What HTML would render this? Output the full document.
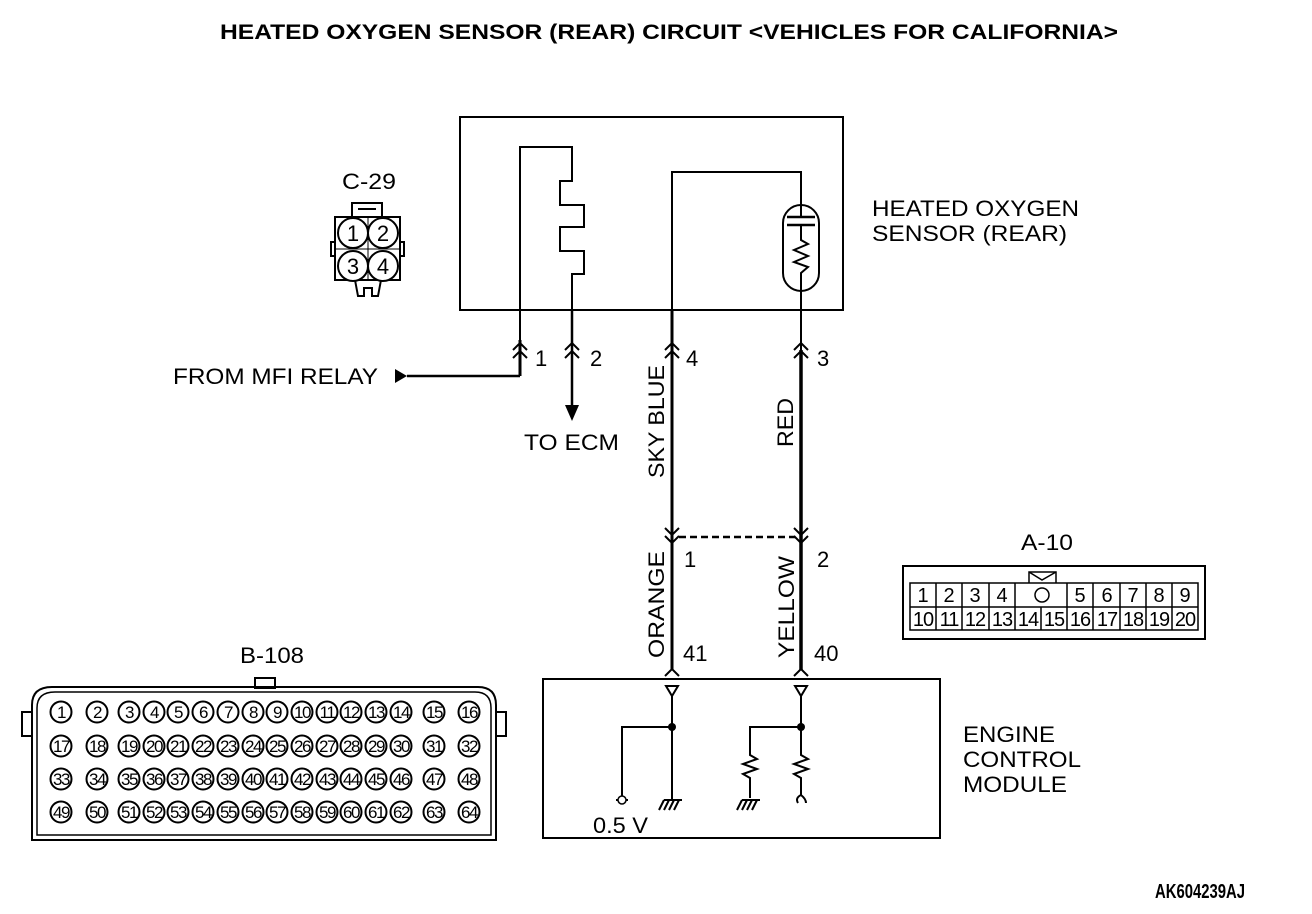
<!DOCTYPE html>
<html><head><meta charset="utf-8"><style>
html,body{margin:0;padding:0;background:#fff}
svg{display:block}
text{font-family:"Liberation Sans",Arial,sans-serif;fill:#000}
</style></head><body>
<svg width="1312" height="914" viewBox="0 0 1312 914" xmlns="http://www.w3.org/2000/svg">
<text x="220" y="39" font-size="21" font-weight="bold" textLength="898" lengthAdjust="spacingAndGlyphs">HEATED OXYGEN SENSOR (REAR) CIRCUIT &lt;VEHICLES FOR CALIFORNIA&gt;</text>

<rect x="460" y="117" width="383" height="193" fill="none" stroke="#000" stroke-width="2"/>
<polyline points="520,376 520,147 572,147 572,181 560,181 560,205 584,205 584,227 560,227 560,251 584,251 584,274 572,274 572,405" fill="none" stroke="#000" stroke-width="2"/>
<polyline points="672,530 672,172 801,172 801,205" fill="none" stroke="#000" stroke-width="2"/>
<line x1="672" y1="310" x2="672" y2="670" stroke="#000" stroke-width="3"/>
<rect x="783" y="205" width="36" height="86" rx="18" fill="none" stroke="#000" stroke-width="2"/>
<line x1="787" y1="217" x2="815" y2="217" stroke="#000" stroke-width="2.5"/>
<line x1="787" y1="225" x2="815" y2="225" stroke="#000" stroke-width="2.5"/>
<line x1="801" y1="217" x2="801" y2="205" stroke="#000" stroke-width="2"/>
<polyline points="801,225 801,240 808,244 794,250 808,256 794,262 808,267 801,273 801,291" fill="none" stroke="#000" stroke-width="2"/>
<line x1="801" y1="291" x2="801" y2="670" stroke="#000" stroke-width="2"/>
<line x1="801" y1="350" x2="801" y2="670" stroke="#000" stroke-width="3.5"/>
<line x1="520" y1="340" x2="520" y2="376" stroke="#000" stroke-width="3"/>

<g fill="none" stroke="#000" stroke-width="2">
<polyline points="513,350 520,343 527,350"/><polyline points="513,358 520,351 527,358"/>
<polyline points="565,350 572,343 579,350"/><polyline points="565,358 572,351 579,358"/>
<polyline points="665,350 672,343 679,350"/><polyline points="665,358 672,351 679,358"/>
<polyline points="794,350 801,343 808,350"/><polyline points="794,358 801,351 808,358"/>
<polyline points="665,528 672,535 679,528"/><polyline points="665,536 672,543 679,536"/>
<polyline points="794,528 801,535 808,528"/><polyline points="794,536 801,543 808,536"/>
<polyline points="665,676 672,669 679,676"/><polyline points="794,676 801,669 808,676"/>
</g>
<g font-size="22">
<text x="535" y="366">1</text>
<text x="590" y="366">2</text>
<text x="686" y="366">4</text>
<text x="817" y="366">3</text>
</g>

<line x1="407" y1="376" x2="520" y2="376" stroke="#000" stroke-width="2.5"/>
<polygon points="395,369 407,376 395,383" fill="#000"/>
<text x="173" y="384" font-size="22" textLength="205" lengthAdjust="spacingAndGlyphs">FROM MFI RELAY</text>
<line x1="572" y1="310" x2="572" y2="405" stroke="#000" stroke-width="2.5"/>
<polygon points="565,405 579,405 572,421" fill="#000"/>
<text x="524" y="450" font-size="22" textLength="95" lengthAdjust="spacingAndGlyphs">TO ECM</text>

<text transform="translate(664,478) rotate(-90)" font-size="22" textLength="113" lengthAdjust="spacingAndGlyphs">SKY BLUE</text>
<text transform="translate(793,447) rotate(-90)" font-size="22" textLength="49" lengthAdjust="spacingAndGlyphs">RED</text>
<line x1="679" y1="537" x2="795" y2="537" stroke="#000" stroke-width="2.5" stroke-dasharray="7,4"/>
<text x="684" y="567" font-size="22">1</text>
<text x="817" y="567" font-size="22">2</text>
<text transform="translate(664,658) rotate(-90)" font-size="22" textLength="107" lengthAdjust="spacingAndGlyphs">ORANGE</text>
<text transform="translate(794,658) rotate(-90)" font-size="22" textLength="102" lengthAdjust="spacingAndGlyphs">YELLOW</text>
<text x="683" y="661" font-size="22">41</text>
<text x="814" y="661" font-size="22">40</text>

<rect x="543" y="679" width="397" height="159" fill="none" stroke="#000" stroke-width="2"/>
<g fill="none" stroke="#000" stroke-width="2">
<polygon points="666,686 678,686 672,696"/>
<polygon points="795,686 807,686 801,696"/>
<line x1="672" y1="696" x2="672" y2="800"/>
<polyline points="672,727 622,727 622,800"/>
<line x1="616" y1="800" x2="628" y2="800"/>
<line x1="801" y1="696" x2="801" y2="748"/>
<polyline points="801,727 750,727 750,752"/>
<polyline points="750,752 750,755 757,759 743,764 757,769 743,774 750,778 750,798"/>
<polyline points="801,748 801,755 808,759 794,764 808,769 794,774 801,778 801,795"/>
<path d="M801,795 q-6,3 -3,8 M801,795 q5,4 5,8"/>
<line x1="664" y1="800" x2="682" y2="800"/>
<line x1="742" y1="800" x2="760" y2="800"/>
</g>
<circle cx="622" cy="800" r="4" fill="#fff" stroke="#000" stroke-width="1.5"/>
<circle cx="672" cy="727" r="4" fill="#000"/><circle cx="801" cy="727" r="4" fill="#000"/>
<g stroke="#000" stroke-width="2">
<line x1="664" y1="810" x2="669" y2="800"/><line x1="669" y1="810" x2="674" y2="800"/><line x1="674" y1="810" x2="679" y2="800"/><line x1="659" y1="810" x2="664" y2="800"/>
<line x1="742" y1="810" x2="747" y2="800"/><line x1="747" y1="810" x2="752" y2="800"/><line x1="752" y1="810" x2="757" y2="800"/><line x1="737" y1="810" x2="742" y2="800"/>
</g>
<text x="593" y="833" font-size="22" textLength="55" lengthAdjust="spacingAndGlyphs">0.5 V</text>
<text x="963" y="742" font-size="22" textLength="92" lengthAdjust="spacingAndGlyphs">ENGINE</text>
<text x="963" y="767" font-size="22" textLength="118" lengthAdjust="spacingAndGlyphs">CONTROL</text>
<text x="963" y="792" font-size="22" textLength="104" lengthAdjust="spacingAndGlyphs">MODULE</text>
<text x="872" y="216" font-size="22" textLength="207" lengthAdjust="spacingAndGlyphs">HEATED OXYGEN</text>
<text x="872" y="241" font-size="22" textLength="195" lengthAdjust="spacingAndGlyphs">SENSOR (REAR)</text>

<text x="342" y="189" font-size="22" textLength="54" lengthAdjust="spacingAndGlyphs">C-29</text>
<g fill="none" stroke="#000" stroke-width="2">
<rect x="352" y="203" width="30" height="14"/>
<line x1="358" y1="209" x2="376" y2="209"/>
<rect x="335" y="217" width="65" height="63"/>
<rect x="331" y="242" width="4" height="14"/><rect x="400" y="242" width="4" height="14"/>
<polyline points="355,280 358,296 364,296 364,288 372,288 372,296 378,296 381,280"/>
<line x1="368" y1="217" x2="368" y2="280" stroke-width="1"/><line x1="335" y1="249" x2="400" y2="249" stroke-width="1"/>
</g>
<g fill="#fff" stroke="#000" stroke-width="2">
<circle cx="353" cy="233" r="15"/><circle cx="383" cy="233" r="15"/>
<circle cx="353" cy="266" r="15"/><circle cx="383" cy="266" r="15"/>
</g>
<g font-size="22" text-anchor="middle">
<text x="353" y="241">1</text><text x="383" y="241">2</text><text x="353" y="274">3</text><text x="383" y="274">4</text>
</g>

<text x="1021" y="550" font-size="22" textLength="52" lengthAdjust="spacingAndGlyphs">A-10</text>
<rect x="903" y="566" width="302" height="73" fill="none" stroke="#000" stroke-width="2"/>
<g fill="none" stroke="#000" stroke-width="1.5">
<rect x="910" y="583" width="288" height="47"/>
<line x1="910" y1="607" x2="1198" y2="607"/>
<polyline points="1029,583 1029,572 1056,572 1056,583"/>
<polyline points="1029,572 1042,580 1056,572"/>
<circle cx="1042" cy="595" r="7"/>
</g>
<g stroke="#000" stroke-width="1.5">
<line x1="936" y1="583" x2="936" y2="630"/><line x1="962" y1="583" x2="962" y2="630"/><line x1="989" y1="583" x2="989" y2="630"/><line x1="1015" y1="583" x2="1015" y2="630"/>
<line x1="1041" y1="607" x2="1041" y2="630"/><line x1="1067" y1="583" x2="1067" y2="630"/>
<line x1="1093" y1="583" x2="1093" y2="630"/><line x1="1120" y1="583" x2="1120" y2="630"/><line x1="1146" y1="583" x2="1146" y2="630"/><line x1="1172" y1="583" x2="1172" y2="630"/>
</g>
<g font-size="20" text-anchor="middle">
<text x="923" y="602">1</text><text x="949" y="602">2</text><text x="975" y="602">3</text><text x="1002" y="602">4</text>
<text x="1080" y="602">5</text><text x="1107" y="602">6</text><text x="1133" y="602">7</text><text x="1159" y="602">8</text><text x="1185" y="602">9</text>
</g>
<g font-size="20" text-anchor="middle" letter-spacing="-1">
<text x="923" y="626">10</text><text x="949" y="626">11</text><text x="975" y="626">12</text><text x="1002" y="626">13</text><text x="1028" y="626">14</text><text x="1054" y="626">15</text>
<text x="1080" y="626">16</text><text x="1107" y="626">17</text><text x="1133" y="626">18</text><text x="1159" y="626">19</text><text x="1185" y="626">20</text>
</g>

<text x="240" y="663" font-size="22" textLength="64" lengthAdjust="spacingAndGlyphs">B-108</text>
<rect x="255" y="678" width="20" height="10" fill="#fff" stroke="#000" stroke-width="2"/>
<rect x="22" y="712" width="10" height="24" fill="#fff" stroke="#000" stroke-width="2"/>
<rect x="496" y="712" width="10" height="24" fill="#fff" stroke="#000" stroke-width="2"/>
<path d="M52,687 H478 Q496,687 496,705 V840 H32 V705 Q32,687 52,687 Z" fill="none" stroke="#000" stroke-width="2"/>
<path d="M55,692 H475 Q491,692 491,708 V835 H37 V708 Q37,692 55,692 Z" fill="none" stroke="#000" stroke-width="1.5"/>
<g fill="none" stroke="#000" stroke-width="2">
<circle cx="61" cy="712" r="10.5"/><circle cx="97" cy="712" r="10.5"/><circle cx="129" cy="712" r="10.5"/><circle cx="154" cy="712" r="10.5"/><circle cx="178" cy="712" r="10.5"/><circle cx="203" cy="712" r="10.5"/><circle cx="228" cy="712" r="10.5"/><circle cx="253" cy="712" r="10.5"/><circle cx="277" cy="712" r="10.5"/><circle cx="302" cy="712" r="10.5"/><circle cx="327" cy="712" r="10.5"/><circle cx="351" cy="712" r="10.5"/><circle cx="376" cy="712" r="10.5"/><circle cx="401" cy="712" r="10.5"/><circle cx="434" cy="712" r="10.5"/><circle cx="469" cy="712" r="10.5"/>
<circle cx="61" cy="746" r="10.5"/><circle cx="97" cy="746" r="10.5"/><circle cx="129" cy="746" r="10.5"/><circle cx="154" cy="746" r="10.5"/><circle cx="178" cy="746" r="10.5"/><circle cx="203" cy="746" r="10.5"/><circle cx="228" cy="746" r="10.5"/><circle cx="253" cy="746" r="10.5"/><circle cx="277" cy="746" r="10.5"/><circle cx="302" cy="746" r="10.5"/><circle cx="327" cy="746" r="10.5"/><circle cx="351" cy="746" r="10.5"/><circle cx="376" cy="746" r="10.5"/><circle cx="401" cy="746" r="10.5"/><circle cx="434" cy="746" r="10.5"/><circle cx="469" cy="746" r="10.5"/>
<circle cx="61" cy="779" r="10.5"/><circle cx="97" cy="779" r="10.5"/><circle cx="129" cy="779" r="10.5"/><circle cx="154" cy="779" r="10.5"/><circle cx="178" cy="779" r="10.5"/><circle cx="203" cy="779" r="10.5"/><circle cx="228" cy="779" r="10.5"/><circle cx="253" cy="779" r="10.5"/><circle cx="277" cy="779" r="10.5"/><circle cx="302" cy="779" r="10.5"/><circle cx="327" cy="779" r="10.5"/><circle cx="351" cy="779" r="10.5"/><circle cx="376" cy="779" r="10.5"/><circle cx="401" cy="779" r="10.5"/><circle cx="434" cy="779" r="10.5"/><circle cx="469" cy="779" r="10.5"/>
<circle cx="61" cy="812" r="10.5"/><circle cx="97" cy="812" r="10.5"/><circle cx="129" cy="812" r="10.5"/><circle cx="154" cy="812" r="10.5"/><circle cx="178" cy="812" r="10.5"/><circle cx="203" cy="812" r="10.5"/><circle cx="228" cy="812" r="10.5"/><circle cx="253" cy="812" r="10.5"/><circle cx="277" cy="812" r="10.5"/><circle cx="302" cy="812" r="10.5"/><circle cx="327" cy="812" r="10.5"/><circle cx="351" cy="812" r="10.5"/><circle cx="376" cy="812" r="10.5"/><circle cx="401" cy="812" r="10.5"/><circle cx="434" cy="812" r="10.5"/><circle cx="469" cy="812" r="10.5"/>
</g>
<g font-size="17" text-anchor="middle" letter-spacing="-1.5">
<text x="61" y="718">1</text><text x="97" y="718">2</text><text x="129" y="718">3</text><text x="154" y="718">4</text><text x="178" y="718">5</text><text x="203" y="718">6</text><text x="228" y="718">7</text><text x="253" y="718">8</text><text x="277" y="718">9</text><text x="302" y="718">10</text><text x="327" y="718">11</text><text x="351" y="718">12</text><text x="376" y="718">13</text><text x="401" y="718">14</text><text x="434" y="718">15</text><text x="469" y="718">16</text>
<text x="61" y="752">17</text><text x="97" y="752">18</text><text x="129" y="752">19</text><text x="154" y="752">20</text><text x="178" y="752">21</text><text x="203" y="752">22</text><text x="228" y="752">23</text><text x="253" y="752">24</text><text x="277" y="752">25</text><text x="302" y="752">26</text><text x="327" y="752">27</text><text x="351" y="752">28</text><text x="376" y="752">29</text><text x="401" y="752">30</text><text x="434" y="752">31</text><text x="469" y="752">32</text>
<text x="61" y="785">33</text><text x="97" y="785">34</text><text x="129" y="785">35</text><text x="154" y="785">36</text><text x="178" y="785">37</text><text x="203" y="785">38</text><text x="228" y="785">39</text><text x="253" y="785">40</text><text x="277" y="785">41</text><text x="302" y="785">42</text><text x="327" y="785">43</text><text x="351" y="785">44</text><text x="376" y="785">45</text><text x="401" y="785">46</text><text x="434" y="785">47</text><text x="469" y="785">48</text>
<text x="61" y="818">49</text><text x="97" y="818">50</text><text x="129" y="818">51</text><text x="154" y="818">52</text><text x="178" y="818">53</text><text x="203" y="818">54</text><text x="228" y="818">55</text><text x="253" y="818">56</text><text x="277" y="818">57</text><text x="302" y="818">58</text><text x="327" y="818">59</text><text x="351" y="818">60</text><text x="376" y="818">61</text><text x="401" y="818">62</text><text x="434" y="818">63</text><text x="469" y="818">64</text>
</g>

<text x="1155" y="898" font-size="20" font-weight="bold" textLength="90" lengthAdjust="spacingAndGlyphs">AK604239AJ</text>
</svg>
</body></html>
